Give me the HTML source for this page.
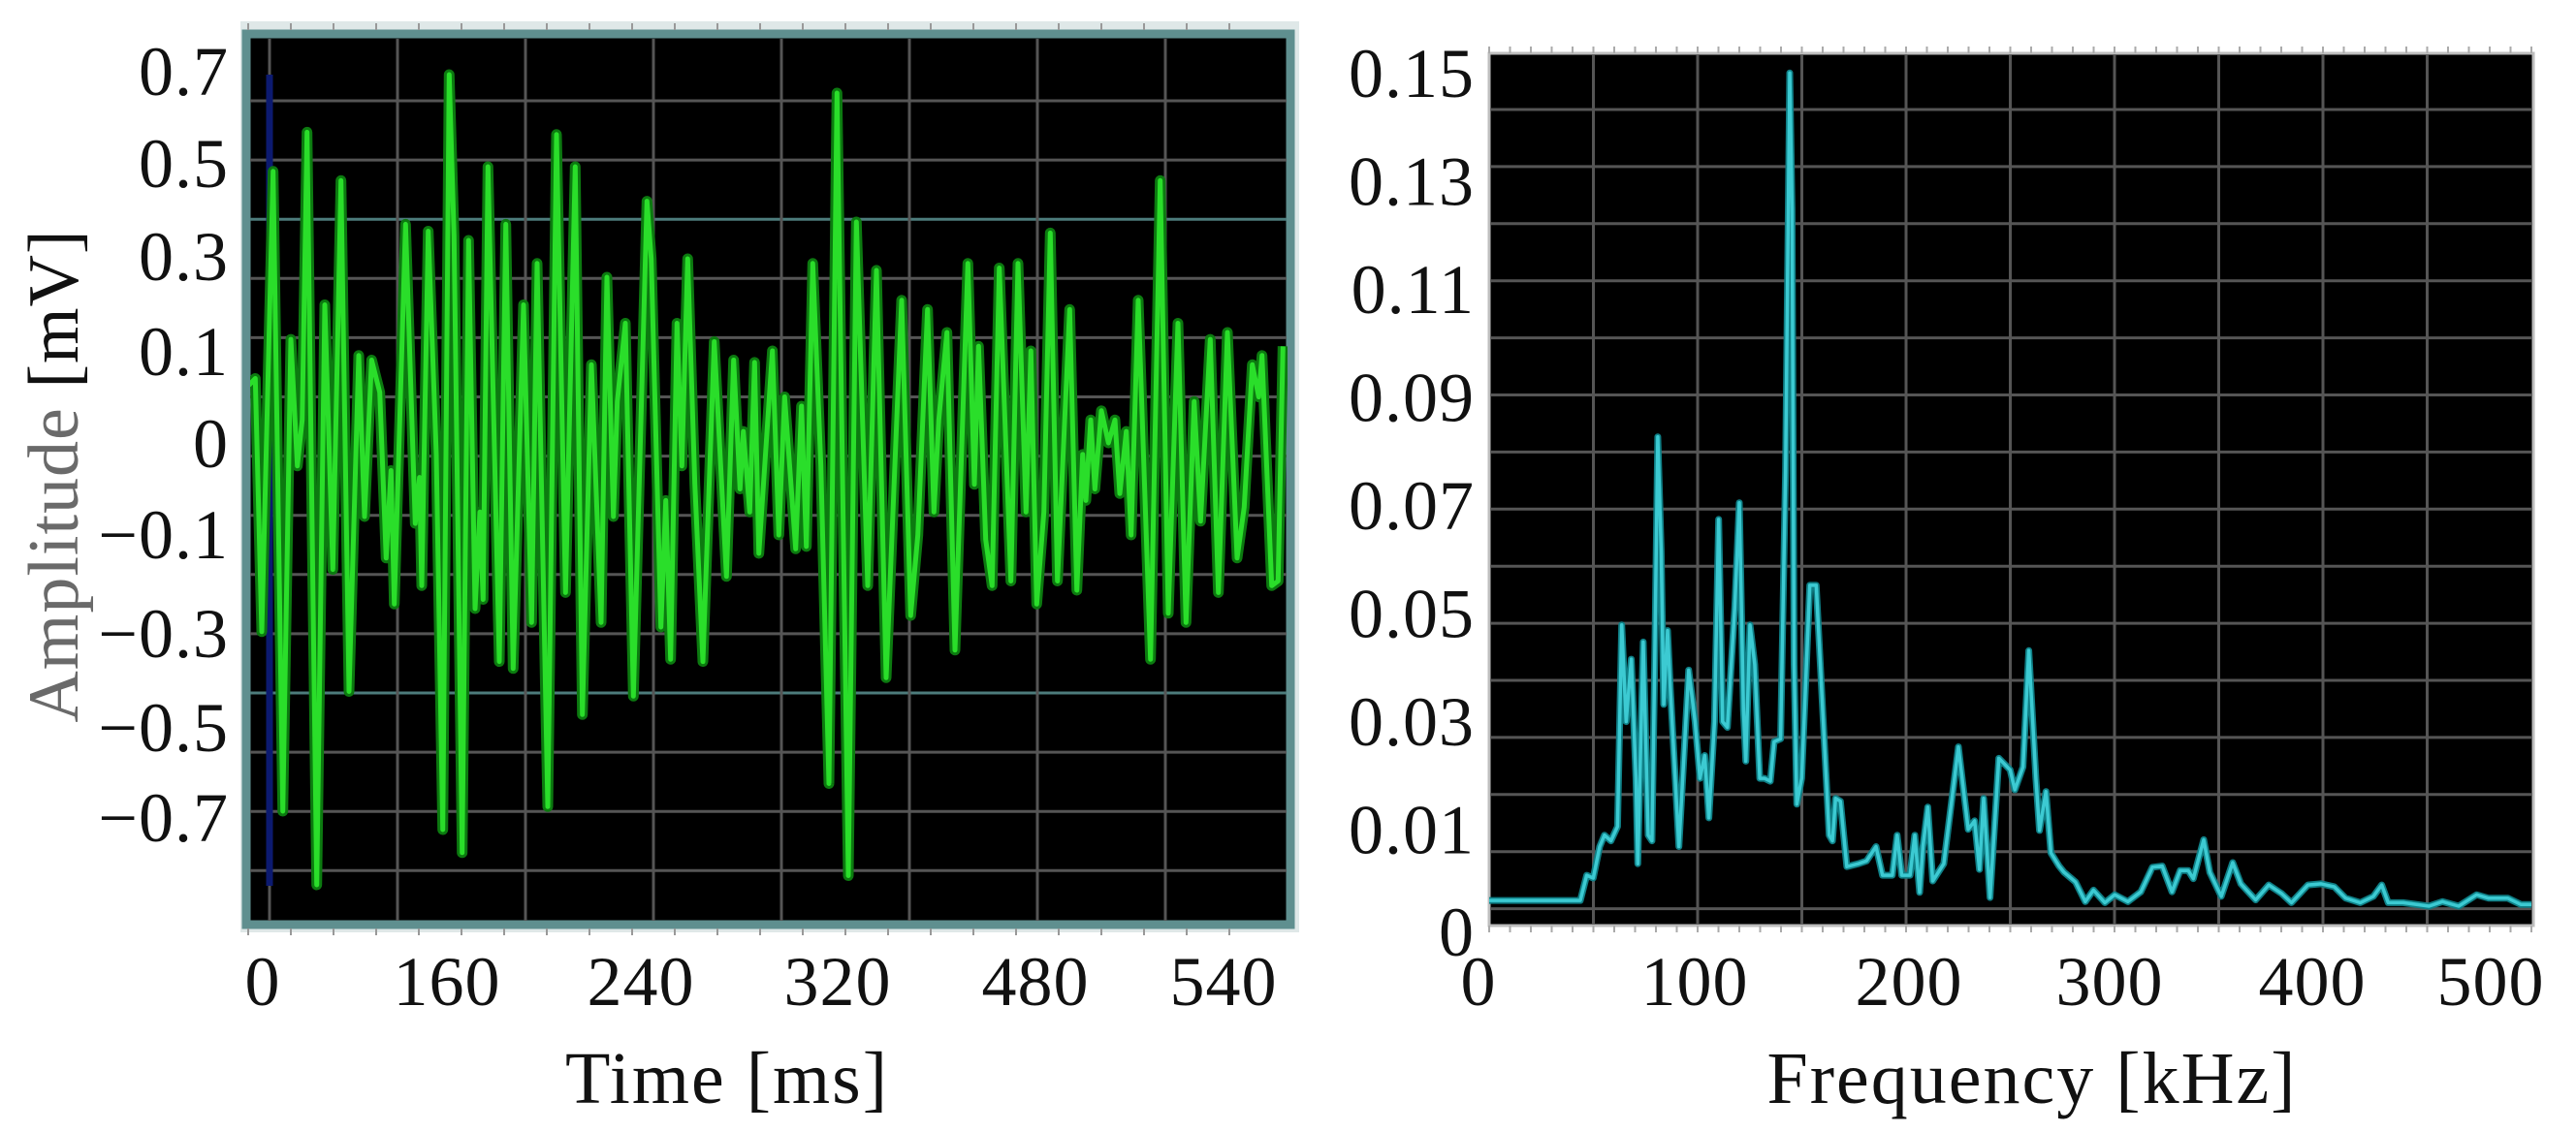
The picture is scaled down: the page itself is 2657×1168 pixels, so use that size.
<!DOCTYPE html>
<html><head><meta charset="utf-8">
<style>
html,body{margin:0;padding:0;background:#fff;}
svg{display:block;}
text{font-family:"Liberation Serif",serif;fill:#111;}
</style></head>
<body>
<svg id="fig" width="2657" height="1168" viewBox="0 0 2657 1168" xmlns="http://www.w3.org/2000/svg">
  <g id="left"></g>
  <g id="right"></g>
</svg>
<script>
// ---------- Time-domain data (ms, mV) ----------
const timeMs = [-6.4,-4.4,-2.4,1.1,4.1,6.6,8.6,10.1,11.6,14.6,17.1,19.6,22.1,24.6,27.6,29.4,31.6,34.1,36.1,37.6,38.6,42.1,45.1,46.4,47.1,49.1,51.6,53.6,55.6,57.1,59.6,61.6,63.6,65.1,66.1,67.6,71.1,73.1,75.4,78.6,81.1,82.8,86.1,88.8,91.6,94.6,96.8,99.6,
102.6,104.4,106.4,107.6,110.1,112.6,116.8,118.1,121.1,122.6,124.1,126.1,127.6,129.4,131.6,134.1,137.6,141.4,143.6,145.6,146.6,148.6,150.1,151.4,155.6,157.6,159.4,162.8,164.6,166.1,168.1,170.6,173.1,175.6,179.1,181.6,185.1,187.8,190.8,195.6,198.4,200.6,203.6,205.6,207.1,
209.6,212.1,216.1,218.1,219.4,221.6,223.6,225.8,229.4,231.6,234.1,235.6,237.4,239.6,241.6,243.8,247.6,249.8,251.6,252.6,254.1,255.4,257.4,259.6,261.6,263.1,265.1,266.6,268.8,272.6,275.6,278.1,281.1,283.6,286.1,288.1,291.1,293.6,296.4,299.4,301.6,304.1,306.1,307.1,310.1,312.1,313.6];
const amplitudeMv = [0.125,0.14,-0.41,0.59,-0.80,0.225,-0.05,0.05,0.675,-0.96,0.30,-0.275,0.57,-0.54,0.19,-0.16,0.18,0.11,-0.25,-0.06,-0.35,0.475,-0.175,-0.075,-0.31,0.46,-0.025,-0.84,0.80,0.45,-0.89,0.44,-0.36,-0.15,-0.34,0.60,-0.475,0.475,-0.49,0.30,-0.39,0.39,-0.79,0.67,-0.325,0.60,-0.59,0.17,
-0.39,0.36,-0.16,0.09,0.26,-0.55,0.525,0.40,-0.40,-0.125,-0.47,0.26,-0.05,0.40,-0.09,-0.475,0.22,-0.29,0.18,-0.10,0.025,-0.15,0.175,-0.24,0.20,-0.20,0.10,-0.23,0.08,-0.225,0.39,-0.05,-0.74,0.76,-0.94,0.48,-0.31,0.375,-0.51,0.31,-0.375,-0.20,0.29,-0.15,0.05,
0.24,-0.45,0.39,-0.09,0.21,-0.21,-0.31,0.38,-0.30,0.39,-0.15,0.20,-0.35,-0.15,0.456,-0.30,0.29,-0.32,-0.025,-0.125,0.05,-0.10,0.07,0.0,0.05,-0.11,0.025,-0.20,0.31,-0.47,0.57,-0.37,0.26,-0.39,0.09,-0.17,0.225,-0.325,0.24,-0.25,-0.14,0.17,0.10,0.19,-0.31,-0.30,0.21];
const leftYTickLabels = ["0.7","0.5","0.3","0.1","0","\u22120.1","\u22120.3","\u22120.5","\u22120.7"];
const leftXTickLabels = ["0","160","240","320","480","540"];

// ---------- Spectrum data (kHz, amplitude) ----------
const freqKHz = [0,29.8,43.7,46.8,49.9,53.0,55.3,58.4,61.6,63.6,65.7,68.2,70.4,71.3,73.9,76.3,78.1,79.4,80.9,82.5,83.7,85.6,86.9,91.0,95.7,98.8,101.1,103.4,105.4,108.1,110.1,112.0,114.3,117.8,120.0,122.0,123.1,125.1,127.4,129.8,132.1,134.9,136.7,139.8,142.2,144.2,145.3,146.3,147.6,149.9,153.8,156.9,163.1,164.7,166.2,168.5,171.6,177.1,181.0,185.6,188.7,193.4,195.7,197.9,201.9,204.2,206.5,208.1,210.4,212.8,218.1,225.1,229.8,232.9,235.2,237.2,240.3,244.5,249.9,252.2,256.1,258.9,262.3,
264.0,267.1,269.5,273.4,275.8,281.3,286.0,289.9,295.4,300.1,306.4,312.6,318.2,322.9,327.6,331.5,335.4,337.8,342.8,345.7,351.2,356.7,360.6,367.7,374.0,380.2,384.9,392.8,399.1,405.4,410.9,417.9,424.2,428.2,431.3,438.4,450.9,457.3,465.1,473.7,479.3,488.6,494.9,500];
const spectrumAmp = [0.0054,0.0054,0.0054,0.0098,0.0093,0.0148,0.0168,0.0158,0.0183,0.0535,0.0366,0.0475,0.0267,0.0118,0.0505,0.0168,0.0158,0.0466,0.0863,0.0664,0.0396,0.0525,0.0426,0.0148,0.0456,0.0366,0.0267,0.0307,0.0198,0.0366,0.0719,0.0366,0.0356,0.0565,0.0748,0.0386,0.0297,0.0535,0.0466,0.0267,0.0267,0.0262,0.0331,0.0336,0.0803,0.1498,0.126,0.0466,0.0222,0.0267,0.0604,0.0604,0.0168,0.0158,0.0232,0.0227,0.0113,0.0118,0.0123,0.0148,0.0098,0.0098,0.0168,0.0098,0.0098,0.0168,0.0068,0.0148,0.0217,0.0088,0.0118,0.0322,0.0178,0.0193,0.0108,0.0232,0.0059,0.0302,0.0282,0.0247,0.0287,0.0490,0.0267,
0.0176,0.0244,0.0137,0.0114,0.0103,0.0086,0.0052,0.0072,0.0050,0.0064,0.0052,0.0069,0.0112,0.0114,0.0069,0.0106,0.0106,0.0092,0.0160,0.0103,0.0061,0.0120,0.0083,0.0055,0.0081,0.0066,0.0050,0.0081,0.0083,0.0078,0.0058,0.0050,0.0061,0.0081,0.0050,0.0050,0.0044,0.0052,0.0044,0.0064,0.0058,0.0058,0.0047,0.0047];
const rightYTickLabels = ["0.15","0.13","0.11","0.09","0.07","0.05","0.03","0.01","0"];
const rightXTickValues = [0,100,200,300,400,500];

const NS = "http://www.w3.org/2000/svg";
function mk(tag, attrs, parent){const e=document.createElementNS(NS,tag);for(const k in attrs)e.setAttribute(k,attrs[k]);parent.appendChild(e);return e;}

// ===== LEFT CHART =====
const L = document.getElementById('left');
const xT = t => 278 + t*10/3;
const yA = v => 457 - v*475;
let e;
e = mk('rect',{x:248,y:22,width:1092,height:940,fill:'#dfe8e8'},L);


e = mk('rect',{x:254,y:35,width:1077,height:919,fill:'#000',stroke:'#5f8f8f','stroke-width':9},L);


for(let k=0;k<14;k++){
  const y = 104 + k*61.1;
  const teal = (k===2||k===10);
  e = mk('line',{x1:258,x2:1327,y1:y,y2:y,stroke:teal?'#4d7c7c':'#555','stroke-width':3},L);
  
  
}
for(let k=0;k<8;k++){
  const x = 278 + k*132;
  e = mk('line',{x1:x,x2:x,y1:40,y2:950,stroke:'#555','stroke-width':3},L);
  
  
}
for(let k=0;k<24;k++){
  const x = 278 + k*44 - 22;
  e = mk('line',{x1:x,x2:x,y1:24,y2:31,stroke:'#999','stroke-width':2},L);
  
  
  e = mk('line',{x1:x,x2:x,y1:958,y2:965,stroke:'#999','stroke-width':2},L);
  
  
}
e = mk('line',{x1:278,x2:278,y1:77,y2:914,stroke:'#0c1a70','stroke-width':7},L);


let pts = timeMs.map((t,i)=>xT(t).toFixed(1)+','+yA(amplitudeMv[i]).toFixed(1)).join(' ');
mk('clipPath',{id:'lclip'},L).appendChild(document.createElementNS(NS,'rect'));
const lc = document.querySelector('#lclip rect'); lc.setAttribute('x',258);lc.setAttribute('y',40);lc.setAttribute('width',1070);lc.setAttribute('height',910);
e = mk('polyline',{points:pts,fill:'none',stroke:'#0c7a10','stroke-width':11,'stroke-linejoin':'round','clip-path':'url(#lclip)'},L);


e = mk('polyline',{points:pts,fill:'none',stroke:'#2ade2a','stroke-width':5,'stroke-linejoin':'round','clip-path':'url(#lclip)'},L);


const lyPos = [73,168,264,362,457,551,653,750,843];
leftYTickLabels.forEach((s,i)=>{
  e = mk('text',{x:236,y:lyPos[i]+25,'font-size':72,'text-anchor':'end','letter-spacing':1},L);
  e.textContent = s;
  
  
});
const lxPos = [271,461,661,864,1068,1262];
leftXTickLabels.forEach((s,i)=>{
  e = mk('text',{x:lxPos[i],y:1037,'font-size':72,'text-anchor':'middle','letter-spacing':1},L);
  e.textContent = s;
  
  
});
e = mk('text',{x:750,y:1138,'font-size':76,'text-anchor':'middle','letter-spacing':2},L);
e.textContent = 'Time [ms]';


e = mk('text',{x:0,y:0,'font-size':74,'text-anchor':'middle','letter-spacing':1,transform:'translate(80,491) rotate(-90)'},L);
e.innerHTML = '<tspan fill="#6a6a6a">Amplitude</tspan> [mV]';



// ===== RIGHT CHART =====
const R = document.getElementById('right');
const xF = f => 1536 + f*2.15;
const yS = v => 961 - v*5913;
e = mk('rect',{x:1536,y:55,width:1077,height:900,fill:'#000',stroke:'#bdbdbd','stroke-width':3},R);


for(let k=0;k<15;k++){
  const y = 113 + k*58.9;
  e = mk('line',{x1:1538,x2:2611,y1:y,y2:y,stroke:'#555','stroke-width':3},R);
  
  
}
for(let k=1;k<10;k++){
  const x = xF(k*50);
  e = mk('line',{x1:x,x2:x,y1:57,y2:953,stroke:'#555','stroke-width':3},R);
  
  
}
for(let k=0;k<=50;k++){
  const x = xF(k*10);
  e = mk('line',{x1:x,x2:x,y1:955,y2:962,stroke:'#aaa','stroke-width':2},R);
  
  
  e = mk('line',{x1:x,x2:x,y1:48,y2:55,stroke:'#aaa','stroke-width':2},R);
  
  
}
pts = freqKHz.map((f,i)=>xF(f).toFixed(1)+','+yS(spectrumAmp[i]).toFixed(1)).join(' ');
e = mk('polyline',{points:pts,fill:'none',stroke:'#0f7f86','stroke-width':7,'stroke-linejoin':'round'},R);


e = mk('polyline',{points:pts,fill:'none',stroke:'#3ccad2','stroke-width':3.5,'stroke-linejoin':'round'},R);


rightYTickLabels.forEach((s,i)=>{
  const yc = i<8 ? 75 + i*111.5 : 961;
  e = mk('text',{x:1521,y:yc+25,'font-size':72,'text-anchor':'end','letter-spacing':1},R);
  e.textContent = s;
  
  
});
const rxPos = [1525,1748,1969,2176,2385,2569];
rightXTickValues.forEach((v,i)=>{
  e = mk('text',{x:rxPos[i],y:1037,'font-size':72,'text-anchor':'middle','letter-spacing':1},R);
  e.textContent = String(v);
  
  
});
e = mk('text',{x:2096,y:1138,'font-size':76,'text-anchor':'middle','letter-spacing':2},R);
e.textContent = 'Frequency [kHz]';


</script>
</body></html>
